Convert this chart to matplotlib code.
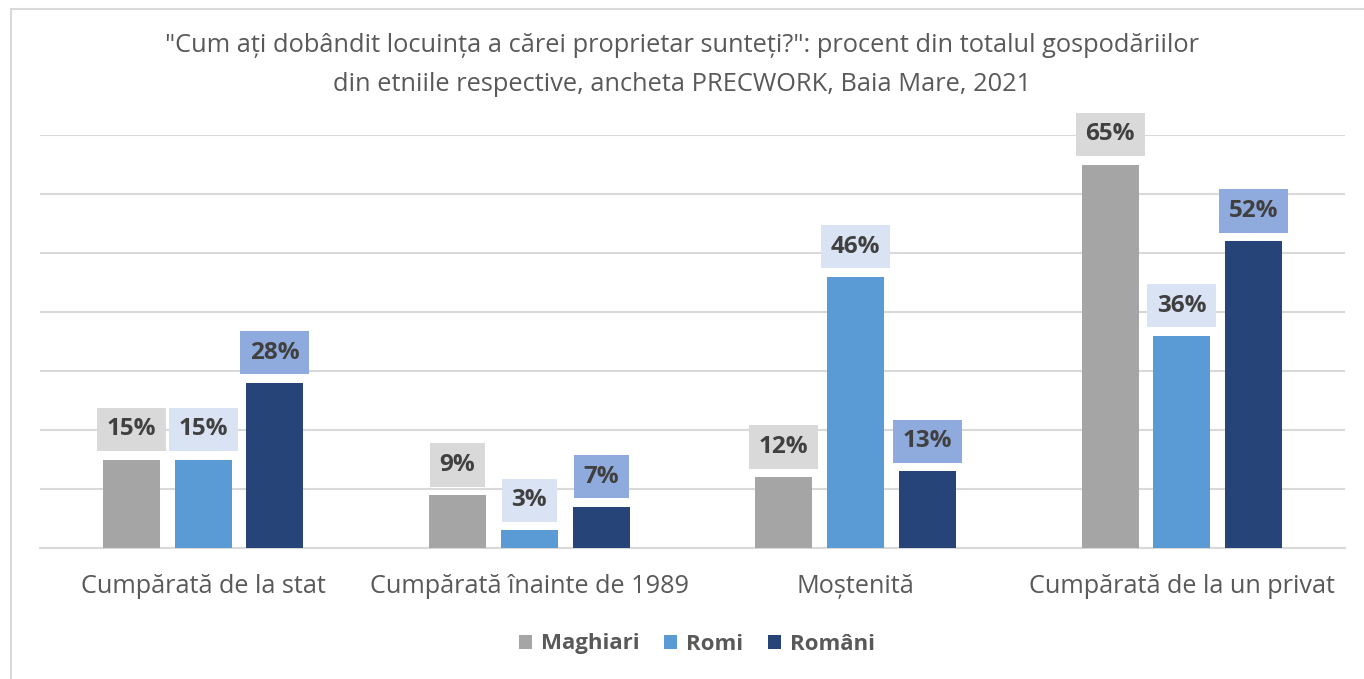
import matplotlib.pyplot as plt
from matplotlib.patches import Rectangle
import numpy as np

# data
categories = ["Cumpărată de la stat", "Cumpărată înainte de 1989", "Moștenită", "Cumpărată de la un privat"]
series = ["Maghiari", "Romi", "Români"]
maghiari = [15, 9, 12, 65]
romi = [15, 3, 46, 36]
romani = [28, 7, 13, 52]

bar_colors = ["#a5a5a5", "#5b9bd5", "#264478"]
box_colors = ["#d9d9d9", "#dae3f3", "#8faadc"]
FONT = "Open Sans"

fig = plt.figure(figsize=(13.64, 6.79), dpi=100)
# outer frame of the chart (only left and top visible in the original)
fig.patches.append(Rectangle((11 / 1364, -0.1), 1.2, (679 - 9.5) / 679 + 0.1,
                             transform=fig.transFigure, fill=False,
                             edgecolor="#d9d9d9", lw=1.5))

ax = fig.add_axes([40 / 1364, (679 - 548) / 679, (1345 - 40) / 1364, (548 - 135) / 679])

x = np.arange(len(categories))
w = 0.175
step = 0.22
for i, (vals, name) in enumerate(zip([maghiari, romi, romani], series)):
    pos = x + (i - 1) * step
    ax.bar(pos, vals, width=w, color=bar_colors[i], label=name, zorder=3)
    for p, v in zip(pos, vals):
        ax.annotate(f"{v}%", (p, v), xytext=(0, 13), textcoords="offset points",
                    ha="center", va="bottom", fontsize=17.5, fontweight="bold",
                    family=FONT, color="#404040", zorder=4,
                    bbox=dict(boxstyle="square,pad=0.4", fc=box_colors[i], ec="none"))

ax.set_xlim(-0.5, 3.5)
ax.set_ylim(0, 70)
ax.set_yticks(np.arange(0, 71, 10))
ax.yaxis.grid(True, color="#d9d9d9", lw=1.5, zorder=0)
ax.tick_params(axis="y", left=False, labelleft=False)
ax.tick_params(axis="x", bottom=False, pad=15)
ax.set_xticks(x)
ax.set_xticklabels(categories, fontsize=18.2, family=FONT, color="#595959")
for s in ["top", "right", "left"]:
    ax.spines[s].set_visible(False)
ax.spines["bottom"].set_color("#d9d9d9")
ax.spines["bottom"].set_linewidth(1.5)

fig.text(0.5, 1 - 65 / 679,
         "\"Cum ați dobândit locuința a cărei proprietar sunteți?\": procent din totalul gospodăriilor\n"
         "din etniile respective, ancheta PRECWORK, Baia Mare, 2021",
         ha="center", va="center", fontsize=18.3, family=FONT, color="#595959",
         linespacing=1.7)

leg = fig.legend(loc="center", bbox_to_anchor=(697 / 1364, 1 - 644 / 679), ncol=3,
                 frameon=False, handlelength=0.6, handleheight=0.6, columnspacing=1.1,
                 handletextpad=0.4,
                 prop={"family": FONT, "weight": "bold", "size": 16})
for t in leg.get_texts():
    t.set_color("#595959")

fig.savefig("out.png", dpi=100)
